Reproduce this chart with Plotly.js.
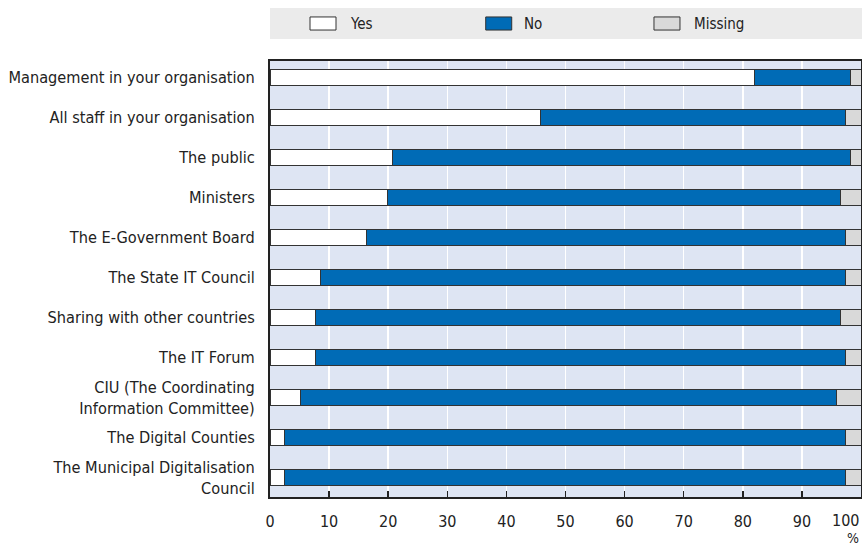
<!DOCTYPE html>
<html>
<head>
<meta charset="utf-8">
<script src="https://cdn.plot.ly/plotly-3.0.1.min.js"></script>
<style>
  html, body { margin: 0; padding: 0; background: #ffffff; }
  #chart { width: 862px; height: 547px; }
</style>
</head>
<body>
<div id="chart"></div>
<script>
// ---- Data (percent of respondents) ----
const categories = [
  "Management in your organisation",
  "All staff in your organisation",
  "The public",
  "Ministers",
  "The E-Government Board",
  "The State IT Council",
  "Sharing with other countries",
  "The IT Forum",
  "CIU (The Coordinating<br>Information Committee)",
  "The Digital Counties",
  "The Municipal Digitalisation<br>Council"
];
const yesValues     = [82.0, 45.7, 20.7, 19.8, 16.4, 8.6, 7.7, 7.7, 5.1, 2.5, 2.5];
const noValues      = [16.3, 51.7, 77.6, 76.8, 81.0, 88.8, 88.9, 89.7, 90.7, 94.9, 94.9];
const missingValues = [1.7, 2.6, 1.7, 3.4, 2.6, 2.6, 3.4, 2.6, 4.2, 2.6, 2.6];
const seriesNames   = ["Yes", "No", "Missing"];
const seriesColors  = ["#ffffff", "#006bb6", "#d9d9d9"];
const xTickValues   = [0, 10, 20, 30, 40, 50, 60, 70, 80, 90, 100];
const unitLabel     = "%";

const FONT = "DejaVu Sans Condensed, Liberation Sans, sans-serif";
const seriesValues = [yesValues, noValues, missingValues];

const traces = seriesNames.map((name, i) => ({
  type: "bar",
  orientation: "h",
  name: name,
  y: categories,
  x: seriesValues[i],
  width: 0.4,
  marker: { color: seriesColors[i], line: { color: "#333333", width: 1 } },
  hoverinfo: "x+name"
}));

// Manual legend inside a grey band above the plot
const legendBoxX = [0.0677, 0.365, 0.6497];
const legendTextX = [0.132, 0.4264, 0.714];
const shapes = [{
  type: "rect", xref: "paper", yref: "paper",
  x0: 0, x1: 1.002, y0: 1.0505, y1: 1.1216,
  fillcolor: "#ebebeb", line: { width: 0 }, layer: "below"
}];
const annotations = [];
seriesNames.forEach((name, i) => {
  shapes.push({
    type: "rect", xref: "paper", yref: "paper",
    x0: legendBoxX[i], x1: legendBoxX[i] + 0.044, y0: 1.071, y1: 1.101,
    fillcolor: seriesColors[i], line: { color: "#333333", width: 1 }
  });
  annotations.push({
    xref: "paper", yref: "paper", x: legendTextX[i], y: 1.086,
    xanchor: "left", yanchor: "middle", showarrow: false,
    text: name, font: { family: FONT, size: 15, color: "#222" }
  });
});
// last tick label shifted left so it stays inside the page, as in the reference
annotations.push({
  xref: "x", yref: "paper", x: 100, y: -0.053, xshift: -1,
  xanchor: "right", yanchor: "middle", showarrow: false, borderpad: 0,
  text: String(xTickValues[xTickValues.length - 1]),
  font: { family: FONT, size: 16, color: "#222" }
});
annotations.push({
  xref: "x", yref: "paper", x: 100, y: -0.1147, xshift: -1,
  xanchor: "right", yanchor: "bottom", showarrow: false, borderpad: 0,
  text: unitLabel, font: { family: FONT, size: 14, color: "#222" }
});

const layout = {
  width: 862, height: 547,
  margin: { l: 270, r: 1, t: 61, b: 50, pad: 0 },
  paper_bgcolor: "#ffffff",
  plot_bgcolor: "#dee5f3",
  barmode: "stack",
  showlegend: false,
  font: { family: FONT, size: 16, color: "#222" },
  xaxis: {
    range: [0, 100],
    tickvals: xTickValues,
    ticktext: xTickValues.map((v, i) => i === xTickValues.length - 1 ? "" : String(v)),
    showgrid: true, gridcolor: "#ffffff", gridwidth: 1.5,
    zeroline: false,
    ticks: "inside", ticklen: 6, tickwidth: 1.5, tickcolor: "#222",
    showline: true, linecolor: "#222", linewidth: 2, mirror: true,
    ticklabelstandoff: 9,
    tickfont: { family: FONT, size: 16, color: "#222" }
  },
  yaxis: {
    type: "category",
    categoryorder: "array",
    categoryarray: categories,
    range: [10.485, -0.4],
    autorange: false,
    showgrid: false, zeroline: false,
    ticks: "",
    showline: true, linecolor: "#222", linewidth: 2, mirror: true,
    ticklabelstandoff: 10,
    tickfont: { family: FONT, size: 16.2, color: "#222" }
  },
  shapes: shapes,
  annotations: annotations
};

Plotly.newPlot("chart", traces, layout, { displayModeBar: false, staticPlot: true });
</script>
</body>
</html>
